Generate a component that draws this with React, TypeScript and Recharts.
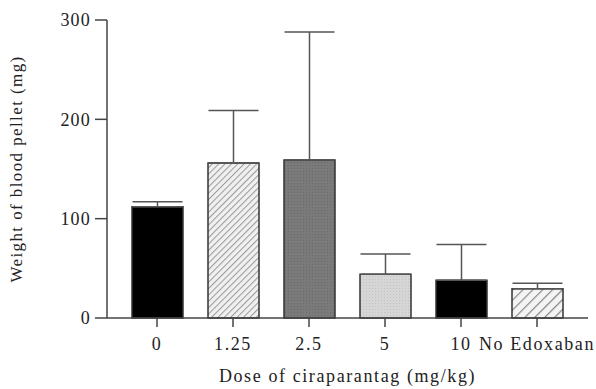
import React from "react";
import { BarChart, Bar, XAxis, YAxis, ErrorBar, Cell } from "recharts";

const categories = ["0", "1.25", "2.5", "5", "10", "No Edoxaban"];
const means = [112, 156, 159, 44, 38, 29.5];
const errorsUp = [5, 53, 129, 20.5, 36, 5.5];
const yTicks = [0, 100, 200, 300];
const fills = ["#000000", "url(#hatchFine)", "url(#crossDark)", "url(#dotLight)", "#000000", "url(#hatchWide)"];

const data = categories.map((c, i) => ({ name: c, value: means[i], err: [0, errorsUp[i]] }));

const font = "Liberation Serif";

export default function App() {
  return (
    <div style={{ position: "absolute", left: 0, top: 0, background: "#fff" }}>
      <BarChart width={596} height={389} data={data} margin={{ top: 20, right: 8, left: 47, bottom: 31 }}>
        <defs>
          <pattern id="hatchFine" patternUnits="userSpaceOnUse" width="4.5" height="4.5" patternTransform="rotate(45)">
            <rect width="4.5" height="4.5" fill="#f0f0f0" />
            <line x1="0" y1="0" x2="0" y2="4.5" stroke="#999" strokeWidth="2" />
          </pattern>
          <pattern id="hatchWide" patternUnits="userSpaceOnUse" width="7" height="7" patternTransform="rotate(45)">
            <rect width="7" height="7" fill="#f4f4f4" />
            <line x1="0" y1="0" x2="0" y2="7" stroke="#888" strokeWidth="2.4" />
          </pattern>
          <pattern id="crossDark" patternUnits="userSpaceOnUse" width="3" height="3">
            <rect width="3" height="3" fill="#7a7a7a" />
            <rect width="1" height="1" fill="#6a6a6a" />
          </pattern>
          <pattern id="dotLight" patternUnits="userSpaceOnUse" width="3" height="3">
            <rect width="3" height="3" fill="#d6d6d6" />
            <rect width="1" height="1" fill="#c4c4c4" />
          </pattern>
        </defs>
        <XAxis
          dataKey="name"
          padding={{ left: 12, right: 13 }}
          tickSize={9}
          tickLine={{ stroke: "#444", strokeWidth: 1.5 }}
          axisLine={{ stroke: "#444", strokeWidth: 1.5 }}
          tick={{ fill: "#222", fontSize: 18, fontFamily: font, letterSpacing: 1.6 }}
          tickMargin={10}
          interval={0}
          height={40}
          label={{ value: "Dose of ciraparantag (mg/kg)", position: "insideBottom", offset: -24, fill: "#222", fontSize: 18, fontFamily: font, letterSpacing: 1.6 }}
        />
        <YAxis
          domain={[0, 300]}
          ticks={yTicks}
          width={60}
          tickSize={12}
          tickLine={{ stroke: "#444", strokeWidth: 1.5 }}
          axisLine={{ stroke: "#444", strokeWidth: 1.5 }}
          tick={{ fill: "#222", fontSize: 18, fontFamily: font, letterSpacing: 1.2 }}
          tickMargin={4}
          label={{ value: "Weight of blood pellet (mg)", angle: -90, position: "insideLeft", offset: -31, style: { textAnchor: "middle" }, fill: "#222", fontSize: 17, fontFamily: font, letterSpacing: 1.4 }}
        />
        <Bar dataKey="value" barSize={51} stroke="#333" strokeWidth={1.5} isAnimationActive={false}>
          {data.map((d, i) => (
            <Cell key={d.name} fill={fills[i]} />
          ))}
          <ErrorBar dataKey="err" width={25} stroke="#555" strokeWidth={1.5} direction="y" />
        </Bar>
      </BarChart>
    </div>
  );
}
